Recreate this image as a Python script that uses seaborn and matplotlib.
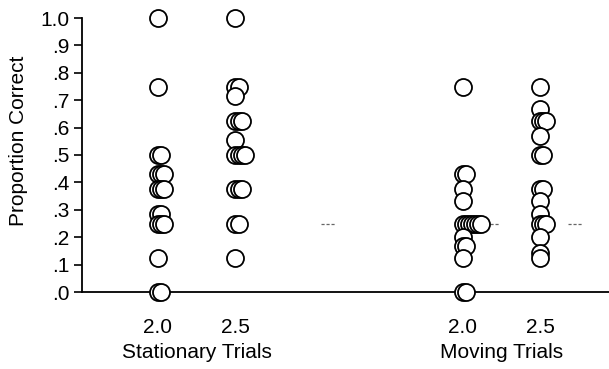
import pandas as pd
import seaborn as sns
import matplotlib.pyplot as plt
import matplotlib.transforms as mtransforms

# proportion correct per participant, one list per condition
stationary_20 = [1.0, .75, .5, .5, .429, .429, .429, .375, .375, .375,
                 .286, .286, .25, .25, .25, .125, 0, 0]
stationary_25 = [1.0, .75, .75, .714, .625, .625, .625, .556, .5, .5, .5, .5,
                 .375, .375, .375, .25, .25, .125]
moving_20 = [.75, .429, .429, .375, .333, .25, .25, .25, .25, .25, .25, .25,
             .2, .167, .167, .125, 0, 0]
moving_25 = [.75, .667, .625, .625, .625, .571, .5, .5, .375, .375, .333,
             .286, .25, .25, .25, .2, .143, .125]

conditions = ['Stationary 2.0', 'Stationary 2.5', 'Moving 2.0', 'Moving 2.5']
positions = [0, 1, 3.93, 4.93]
tick_labels = ['2.0', '2.5', '2.0', '2.5']
groups = ['Stationary Trials', 'Moving Trials']
group_centers = [0.5, 4.43]
chance = 0.25
chance_x = [2.19, 4.31, 5.38]

rows = []
for cond, pos, vals in zip(conditions, positions,
                           [stationary_20, stationary_25, moving_20, moving_25]):
    for v in vals:
        rows.append({'cond': cond, 'pos': pos, 'value': v})
df = pd.DataFrame(rows)
# shift tied scores a little to the right so they stay visible
df['rank'] = df.groupby(['cond', 'value']).cumcount()
df['x'] = df['pos'] + df['rank'] * 0.04

sns.set_style('ticks')
plt.rcParams['font.family'] = ['Liberation Sans', 'DejaVu Sans']
plt.rcParams['text.color'] = 'black'
plt.rcParams['axes.labelcolor'] = 'black'
plt.rcParams['xtick.color'] = 'black'
plt.rcParams['ytick.color'] = 'black'
plt.rcParams['axes.edgecolor'] = 'black'

fig = plt.figure(figsize=(6.09, 3.69), dpi=100)
ax = fig.add_axes([82 / 609, 1 - 292 / 369, 1 - 82 / 609, 274 / 369])

sns.scatterplot(data=df, x='x', y='value', ax=ax, s=150, color='white',
                edgecolor='black', linewidth=1.3, clip_on=False, zorder=3,
                legend=False)

for cx in chance_x:
    ax.plot([cx - 0.09, cx + 0.09], [chance, chance], color='#666666',
            lw=0.9, ls=(0, (2.5, 1.5)), zorder=1)

ax.set_xlim(-0.98, 5.82)
ax.set_ylim(0, 1)
ax.set_yticks([i / 10 for i in range(11)])
ax.set_yticklabels(['.0', '.1', '.2', '.3', '.4', '.5', '.6', '.7', '.8', '.9', '1.0'])
ax.set_xticks(positions)
ax.set_xticklabels(tick_labels)
ax.tick_params(axis='x', length=0, pad=19, labelsize=15)
ax.tick_params(axis='y', length=6, width=1.2, pad=3, labelsize=15)
ax.set_xlabel('')
ax.set_ylabel('Proportion Correct', fontsize=15)
ax.yaxis.set_label_coords(-0.102, 0.55)

for sp in ['top', 'right']:
    ax.spines[sp].set_visible(False)
for sp in ['left', 'bottom']:
    ax.spines[sp].set_linewidth(1.3)

trans = mtransforms.blended_transform_factory(ax.transData, ax.transAxes)
for name, c in zip(groups, group_centers):
    ax.text(c, -0.22, name, transform=trans, ha='center', va='center',
            fontsize=15)

fig.savefig('out.png', dpi=100)
